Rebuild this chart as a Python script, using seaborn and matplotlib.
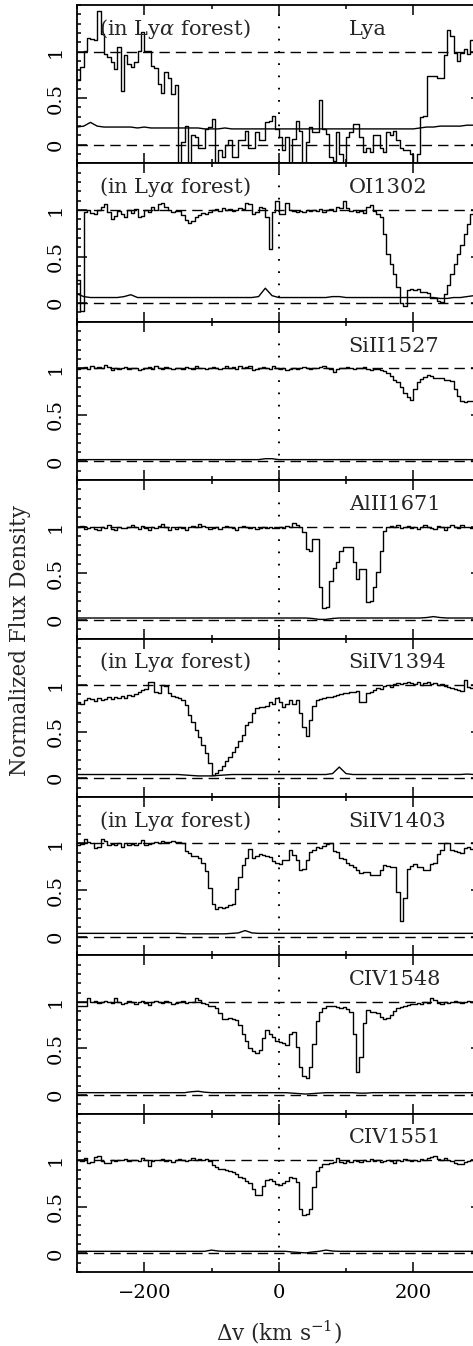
import numpy as np
import matplotlib
matplotlib.use("Agg")
import matplotlib.pyplot as plt
import seaborn as sns

# Velocity grid: left edges of 5 km/s pixels, and a 10 km/s grid for the error arrays
vel = np.arange(-300, 300, 5)
err_vel = np.arange(-300, 301, 10)

ions = ["Lya", "OI1302", "SiII1527", "AlII1671",
        "SiIV1394", "SiIV1403", "CIV1548", "CIV1551"]
in_forest = [True, True, False, False, True, True, False, False]

flux_lya = [
    0.69, 0.83, 1.01, 1.15, 1.13, 1.12, 1.44, 1.19, 0.97, 0.94,
    0.89, 0.81, 1.05, 0.58, 0.96, 0.87, 0.83, 0.89, 1.01, 1.21,
    1.01, 1.01, 0.85, 0.82, 0.65, 0.56, 0.78, 0.72, 0.55, 0.64,
    -0.25, 0.03, 0.20, -0.25, 0.10, 0.08, -0.03, -0.03, 0.17, 0.19,
    0.28, -0.25, -0.06, -0.13, 0.00, 0.05, -0.13, -0.13, 0.05, 0.05,
    0.15, -0.03, -0.03, 0.14, 0.05, 0.05, 0.24, 0.26, 0.31, 0.17,
    0.08, -0.06, 0.08, -0.25, 0.06, 0.26, 0.15, -0.25, 0.03, 0.19,
    0.14, 0.14, 0.48, 0.17, 0.12, -0.13, -0.17, 0.14, -0.10, -0.25,
    0.08, 0.14, 0.22, 0.22, 0.08, -0.08, -0.03, -0.08, 0.10, 0.10,
    -0.03, -0.08, 0.14, 0.10, 0.15, 0.05, -0.03, -0.06, -0.06, -0.10,
    -0.25, -0.10, 0.30, 0.31, 0.74, 0.74, 0.74, 0.72, 0.72, 0.96,
    1.23, 1.17, 0.99, 0.90, 0.99, 1.03, 0.97, 1.12, 0.80, 0.95,
]
flux_oi = [
    0.25, -0.08, 0.98, 1.00, 0.97, 0.96, 1.00, 1.03, 1.06, 0.98,
    0.90, 0.93, 0.99, 0.96, 0.92, 1.00, 0.97, 1.01, 0.92, 0.93,
    1.00, 0.98, 1.03, 1.00, 1.06, 1.08, 1.03, 1.00, 0.98, 0.99,
    0.99, 0.95, 0.89, 0.86, 0.88, 0.92, 0.95, 0.97, 0.96, 0.98,
    1.00, 1.01, 0.99, 1.02, 1.00, 1.01, 0.99, 1.00, 1.02, 1.01,
    1.08, 1.06, 0.96, 0.98, 1.03, 1.02, 0.92, 0.58, 0.98, 1.10,
    0.96, 0.96, 1.08, 1.00, 0.99, 0.98, 0.99, 0.98, 1.00, 0.99,
    1.00, 0.99, 1.01, 0.98, 1.00, 1.01, 0.99, 1.03, 1.02, 1.10,
    1.02, 0.99, 1.00, 0.98, 0.99, 0.97, 1.03, 1.05, 0.99, 0.96,
    0.92, 0.74, 0.53, 0.42, 0.31, 0.17, 0.00, -0.03, 0.14, 0.15,
    0.14, 0.15, 0.12, 0.12, 0.11, 0.06, 0.05, 0.02, 0.01, 0.10,
    0.19, 0.31, 0.42, 0.53, 0.62, 0.74, 0.85, 0.96, 1.00, 1.00,
]
flux_siii = [
    0.99, 1.00, 1.01, 0.99, 1.02, 1.00, 1.01, 1.00, 1.04, 1.01,
    0.98, 1.00, 0.99, 1.00, 1.01, 0.99, 1.00, 1.00, 0.98, 0.99,
    1.00, 1.01, 0.99, 1.02, 1.00, 0.99, 1.01, 1.00, 0.99, 1.00,
    1.00, 0.99, 1.01, 1.00, 0.99, 1.02, 1.00, 1.00, 0.99, 1.00,
    1.01, 1.00, 0.99, 1.00, 1.02, 1.00, 1.01, 0.99, 1.02, 1.00,
    1.01, 1.03, 0.98, 0.99, 1.00, 1.01, 1.00, 0.99, 1.02, 1.00,
    0.99, 1.00, 0.98, 0.99, 1.00, 0.99, 1.00, 1.01, 1.00, 0.99,
    1.00, 1.00, 1.01, 1.03, 1.00, 0.99, 0.96, 0.99, 1.00, 1.00,
    1.01, 1.00, 0.99, 1.00, 1.00, 1.01, 0.99, 0.98, 0.99, 0.99,
    0.98, 0.97, 0.95, 0.92, 0.88, 0.85, 0.80, 0.73, 0.69, 0.66,
    0.78, 0.85, 0.89, 0.91, 0.93, 0.92, 0.90, 0.90, 0.90, 0.88,
    0.87, 0.86, 0.78, 0.70, 0.65, 0.64, 0.65, 0.65, 0.66, 0.66,
]
flux_alii = [
    1.00, 1.01, 0.98, 0.99, 1.00, 0.98, 0.97, 1.00, 0.99, 1.02,
    0.98, 0.97, 1.00, 0.99, 0.99, 1.00, 1.02, 1.00, 0.98, 1.01,
    0.99, 0.96, 1.00, 0.99, 1.01, 1.03, 1.00, 0.97, 1.00, 0.98,
    1.00, 0.99, 0.97, 1.00, 1.01, 1.00, 1.03, 1.01, 1.00, 0.98,
    0.99, 1.00, 0.98, 1.00, 1.01, 1.00, 0.99, 0.97, 1.00, 1.01,
    1.00, 0.99, 1.00, 0.98, 0.99, 1.00, 0.99, 1.00, 0.99, 0.99,
    1.00, 0.99, 1.01, 1.00, 1.04, 1.02, 1.00, 0.94, 0.76, 0.74,
    0.87, 0.87, 0.35, 0.13, 0.14, 0.42, 0.56, 0.62, 0.74, 0.78,
    0.78, 0.78, 0.62, 0.44, 0.55, 0.55, 0.19, 0.20, 0.35, 0.51,
    0.74, 0.95, 1.00, 1.01, 1.00, 1.02, 0.99, 1.00, 1.01, 0.99,
    1.00, 0.98, 1.00, 1.02, 1.00, 0.99, 0.98, 1.01, 1.00, 0.97,
    1.00, 1.02, 1.00, 0.99, 1.02, 1.00, 1.00, 0.99, 1.00, 0.99,
]
flux_siiv1394 = [
    0.82, 0.80, 0.84, 0.86, 0.85, 0.83, 0.86, 0.84, 0.85, 0.87,
    0.85, 0.87, 0.86, 0.88, 0.86, 0.89, 0.88, 0.90, 0.93, 0.95,
    0.96, 1.03, 1.03, 0.93, 0.92, 1.00, 0.99, 0.92, 0.88, 0.87,
    0.86, 0.84, 0.79, 0.68, 0.60, 0.52, 0.44, 0.36, 0.27, 0.16,
    0.03, 0.06, 0.09, 0.13, 0.18, 0.23, 0.28, 0.33, 0.40, 0.46,
    0.57, 0.60, 0.70, 0.75, 0.76, 0.77, 0.78, 0.82, 0.80, 0.86,
    0.82, 0.77, 0.80, 0.84, 0.80, 0.84, 0.70, 0.55, 0.45, 0.62,
    0.78, 0.84, 0.85, 0.86, 0.87, 0.87, 0.88, 0.89, 0.90, 0.91,
    0.92, 0.93, 0.93, 0.94, 0.82, 0.82, 0.92, 0.93, 0.95, 0.97,
    0.96, 0.99, 1.00, 0.98, 1.01, 1.02, 1.01, 1.02, 1.03, 1.02,
    1.01, 1.03, 1.00, 1.02, 1.03, 1.01, 1.02, 1.00, 1.01, 0.99,
    0.98, 0.97, 0.96, 0.95, 0.94, 1.05, 0.98, 0.97, 0.98, 0.97,
]
flux_siiv1403 = [
    0.98, 0.99, 1.05, 1.02, 1.01, 0.95, 0.96, 1.05, 1.03, 0.98,
    0.99, 0.98, 1.00, 0.96, 1.01, 0.98, 0.99, 0.98, 1.00, 1.04,
    0.98, 0.99, 1.01, 1.02, 1.01, 1.03, 1.02, 1.02, 1.03, 1.02,
    1.02, 1.00, 0.92, 0.90, 0.87, 0.86, 0.84, 0.79, 0.70, 0.52,
    0.35, 0.30, 0.32, 0.31, 0.32, 0.34, 0.35, 0.51, 0.64, 0.77,
    0.84, 0.94, 0.84, 0.86, 0.89, 0.88, 0.86, 0.85, 0.81, 0.79,
    0.78, 0.82, 0.82, 0.93, 0.88, 0.82, 0.71, 0.73, 0.82, 0.91,
    0.93, 0.96, 0.95, 0.97, 0.99, 1.00, 0.92, 0.91, 0.84, 0.83,
    0.79, 0.77, 0.75, 0.72, 0.68, 0.69, 0.69, 0.66, 0.66, 0.66,
    0.72, 0.77, 0.76, 0.75, 0.75, 0.48, 0.17, 0.41, 0.73, 0.76,
    0.78, 0.75, 0.75, 0.71, 0.72, 0.78, 0.79, 0.89, 0.93, 1.00,
    1.01, 0.93, 0.92, 0.91, 0.90, 0.95, 0.96, 0.94, 0.95, 0.96,
]
flux_civ1548 = [
    0.96, 0.95, 0.95, 1.04, 1.00, 1.01, 0.99, 1.00, 1.01, 1.00,
    0.99, 1.04, 1.00, 0.98, 0.99, 1.01, 1.00, 0.98, 1.00, 1.01,
    0.99, 0.97, 1.00, 1.01, 1.00, 0.99, 1.01, 1.00, 0.98, 0.99,
    1.00, 1.01, 0.99, 1.00, 1.00, 1.04, 1.02, 0.99, 0.98, 0.96,
    0.95, 0.93, 0.88, 0.82, 0.82, 0.83, 0.82, 0.80, 0.75, 0.66,
    0.58, 0.50, 0.47, 0.45, 0.48, 0.61, 0.70, 0.66, 0.62, 0.58,
    0.57, 0.56, 0.54, 0.66, 0.68, 0.52, 0.30, 0.20, 0.18, 0.30,
    0.55, 0.79, 0.89, 0.93, 0.95, 0.95, 0.96, 0.94, 0.93, 0.94,
    0.92, 0.89, 0.66, 0.25, 0.41, 0.77, 0.91, 0.89, 0.89, 0.88,
    0.84, 0.82, 0.83, 0.86, 0.90, 0.93, 0.94, 0.96, 0.97, 0.98,
    0.98, 0.99, 0.98, 1.00, 0.99, 1.04, 1.02, 0.99, 0.98, 1.00,
    0.99, 1.00, 1.01, 1.00, 0.99, 1.00, 1.01, 1.00, 0.99, 1.00,
]
flux_civ1551 = [
    1.00, 0.99, 1.02, 0.97, 0.98, 1.03, 1.04, 0.99, 0.97, 0.97,
    1.00, 0.99, 1.00, 1.00, 1.01, 0.99, 1.00, 1.00, 0.99, 1.02,
    1.00, 0.94, 0.99, 1.00, 1.00, 1.01, 0.99, 1.00, 0.98, 1.00,
    1.01, 1.00, 0.99, 1.00, 1.02, 1.00, 1.01, 1.00, 1.01, 0.99,
    0.95, 0.93, 0.91, 0.91, 0.90, 0.88, 0.87, 0.85, 0.82, 0.81,
    0.78, 0.76, 0.69, 0.63, 0.63, 0.72, 0.79, 0.80, 0.78, 0.74,
    0.73, 0.75, 0.78, 0.82, 0.81, 0.77, 0.48, 0.41, 0.42, 0.48,
    0.71, 0.88, 0.93, 0.96, 0.96, 0.97, 0.98, 1.02, 0.98, 0.97,
    0.99, 0.98, 1.00, 0.99, 0.98, 1.00, 0.99, 1.01, 0.99, 1.00,
    0.98, 0.99, 1.00, 0.99, 0.97, 1.00, 0.99, 1.01, 1.00, 0.99,
    1.00, 0.99, 1.01, 1.00, 1.02, 1.03, 1.04, 1.01, 1.00, 1.02,
    1.00, 0.99, 0.97, 0.96, 0.96, 0.98, 0.99, 1.00, 1.00, 1.00,
]

err_lya = [
    0.19, 0.20, 0.24, 0.20, 0.19, 0.19, 0.19, 0.19, 0.19, 0.18,
    0.19, 0.18, 0.18, 0.18, 0.18, 0.18, 0.18, 0.18, 0.18, 0.17,
    0.17, 0.17, 0.18, 0.17, 0.17, 0.17, 0.17, 0.17, 0.17, 0.17,
    0.17, 0.17, 0.17, 0.17, 0.17, 0.17, 0.17, 0.17, 0.17, 0.17,
    0.17, 0.17, 0.17, 0.17, 0.17, 0.17, 0.17, 0.17, 0.17, 0.17,
    0.17, 0.18, 0.19, 0.19, 0.20, 0.20, 0.20, 0.20, 0.21, 0.21, 0.20,
]
err_oi = [
    0.10, 0.07, 0.06, 0.06, 0.06, 0.06, 0.06, 0.07, 0.09, 0.06,
    0.06, 0.06, 0.06, 0.06, 0.06, 0.06, 0.06, 0.06, 0.06, 0.06,
    0.06, 0.06, 0.06, 0.06, 0.06, 0.06, 0.06, 0.07, 0.16, 0.08,
    0.06, 0.06, 0.06, 0.06, 0.06, 0.06, 0.06, 0.06, 0.07, 0.07,
    0.06, 0.06, 0.06, 0.06, 0.06, 0.06, 0.06, 0.06, 0.06, 0.06,
    0.06, 0.06, 0.06, 0.06, 0.05, 0.05, 0.06, 0.06, 0.07, 0.08, 0.09,
]
err_siii = [
    0.02, 0.02, 0.02, 0.02, 0.02, 0.02, 0.02, 0.02, 0.02, 0.02,
    0.02, 0.02, 0.02, 0.02, 0.02, 0.02, 0.02, 0.02, 0.02, 0.02,
    0.02, 0.02, 0.02, 0.02, 0.02, 0.02, 0.02, 0.02, 0.03, 0.03,
    0.02, 0.02, 0.02, 0.02, 0.02, 0.02, 0.02, 0.02, 0.02, 0.02,
    0.02, 0.02, 0.02, 0.02, 0.02, 0.02, 0.02, 0.02, 0.02, 0.02,
    0.02, 0.02, 0.02, 0.02, 0.02, 0.02, 0.02, 0.02, 0.02, 0.02, 0.02,
]
err_alii = [
    0.02, 0.02, 0.02, 0.02, 0.02, 0.02, 0.02, 0.02, 0.02, 0.02,
    0.02, 0.02, 0.02, 0.02, 0.02, 0.02, 0.02, 0.02, 0.02, 0.02,
    0.02, 0.02, 0.02, 0.02, 0.02, 0.02, 0.02, 0.02, 0.02, 0.02,
    0.02, 0.02, 0.02, 0.02, 0.02, 0.015, 0.005, 0.005, 0.015, 0.02,
    0.02, 0.02, 0.02, 0.02, 0.02, 0.02, 0.02, 0.02, 0.02, 0.02,
    0.02, 0.02, 0.025, 0.035, 0.025, 0.02, 0.02, 0.02, 0.02, 0.02, 0.02,
]
err_siiv1394 = [
    0.04, 0.04, 0.04, 0.04, 0.04, 0.04, 0.04, 0.04, 0.04, 0.04,
    0.04, 0.04, 0.04, 0.04, 0.04, 0.04, 0.035, 0.03, 0.025, 0.025,
    0.025, 0.03, 0.035, 0.04, 0.04, 0.04, 0.04, 0.04, 0.04, 0.04,
    0.04, 0.04, 0.04, 0.04, 0.04, 0.04, 0.04, 0.04, 0.05, 0.12,
    0.05, 0.04, 0.04, 0.04, 0.04, 0.04, 0.04, 0.04, 0.04, 0.04,
    0.04, 0.04, 0.04, 0.04, 0.04, 0.04, 0.04, 0.04, 0.045, 0.04, 0.04,
]
err_siiv1403 = [
    0.035, 0.035, 0.035, 0.035, 0.035, 0.035, 0.035, 0.035, 0.035, 0.035,
    0.035, 0.035, 0.035, 0.035, 0.035, 0.035, 0.03, 0.03, 0.03, 0.03,
    0.03, 0.03, 0.03, 0.035, 0.04, 0.065, 0.04, 0.035, 0.035, 0.035,
    0.035, 0.035, 0.035, 0.035, 0.035, 0.035, 0.035, 0.035, 0.035, 0.035,
    0.035, 0.035, 0.035, 0.035, 0.035, 0.035, 0.035, 0.035, 0.035, 0.035,
    0.035, 0.035, 0.035, 0.035, 0.035, 0.035, 0.035, 0.035, 0.035, 0.035, 0.035,
]
err_civ1548 = [
    0.025, 0.025, 0.025, 0.025, 0.025, 0.025, 0.025, 0.025, 0.025, 0.025,
    0.025, 0.025, 0.025, 0.025, 0.025, 0.025, 0.025, 0.035, 0.04, 0.03,
    0.025, 0.025, 0.025, 0.025, 0.025, 0.025, 0.025, 0.025, 0.025, 0.025,
    0.025, 0.025, 0.02, 0.015, 0.01, 0.015, 0.02, 0.025, 0.025, 0.025,
    0.025, 0.025, 0.02, 0.02, 0.025, 0.025, 0.025, 0.025, 0.025, 0.025,
    0.025, 0.025, 0.025, 0.025, 0.025, 0.025, 0.025, 0.025, 0.025, 0.025, 0.025,
]
err_civ1551 = [
    0.022, 0.022, 0.022, 0.022, 0.022, 0.022, 0.022, 0.022, 0.022, 0.022,
    0.022, 0.022, 0.022, 0.022, 0.022, 0.022, 0.022, 0.022, 0.022, 0.022,
    0.035, 0.025, 0.022, 0.022, 0.022, 0.022, 0.022, 0.022, 0.022, 0.022,
    0.022, 0.022, 0.015, 0.01, 0.005, 0.015, 0.022, 0.035, 0.025, 0.022,
    0.022, 0.022, 0.022, 0.022, 0.022, 0.022, 0.022, 0.022, 0.022, 0.022,
    0.022, 0.022, 0.022, 0.022, 0.022, 0.022, 0.022, 0.022, 0.022, 0.022, 0.022,
]

fluxes = [flux_lya, flux_oi, flux_siii, flux_alii,
          flux_siiv1394, flux_siiv1403, flux_civ1548, flux_civ1551]
errors = [err_lya, err_oi, err_siii, err_alii,
          err_siiv1394, err_siiv1403, err_civ1548, err_civ1551]

sns.set_theme(style="ticks")
plt.rcParams["font.family"] = ["DejaVu Serif"]
plt.rcParams["mathtext.fontset"] = "dejavuserif"
plt.rcParams["axes.linewidth"] = 1.3

W, H = 473, 1346
fig = plt.figure(figsize=(W / 100, H / 100), dpi=100)
fig.patch.set_facecolor("white")

left_px, right_px, top_px, bottom_px = 77, 480.5, 5, 1272
n = len(ions)
panel_h = (bottom_px - top_px) / n

axes = []
for i in range(n):
    y_top = top_px + i * panel_h
    rect = [left_px / W, 1 - (y_top + panel_h) / H,
            (right_px - left_px) / W, panel_h / H]
    ax = fig.add_axes(rect, sharex=axes[0] if axes else None)
    axes.append(ax)

for i, ax in enumerate(axes):
    ax.set_facecolor("white")
    sns.lineplot(x=vel, y=fluxes[i], ax=ax, color="black", lw=1.0,
                 drawstyle="steps-post", estimator=None, sort=False)
    sns.lineplot(x=err_vel, y=errors[i], ax=ax, color="black", lw=1.0,
                 estimator=None, sort=False)
    ax.axhline(1.0, color="black", lw=1.0, dashes=(7.5, 4.3), zorder=1)
    ax.axhline(0.0, color="black", lw=1.0, dashes=(7.5, 4.3), zorder=1)
    ax.axvline(0.0, color="black", lw=1.4, dashes=(0.9, 5.4), zorder=1)

    ax.set_xlim(-300, 300)
    ax.set_ylim(-0.2, 1.5)
    ax.set_xticks([-200, 0, 200])
    ax.set_xticks([-300, -100, 100, 300], minor=True)
    ax.set_yticks([0, 0.5, 1])
    ax.set_yticks(np.arange(-0.2, 1.51, 0.1), minor=True)
    ax.set_yticklabels(["0", "0.5", "1"])
    ax.tick_params(which="both", direction="in", top=True, right=True,
                   width=1.1, colors="black", labelsize=14)
    ax.tick_params(which="major", length=7, pad=9)
    ax.tick_params(which="minor", length=3.2)
    for lab in ax.get_yticklabels():
        lab.set_rotation(90)
        lab.set_va("center")
        lab.set_ha("right")
    if i < n - 1:
        ax.tick_params(labelbottom=False)
    ax.set_xlabel("")
    ax.set_ylabel("")
    for s in ax.spines.values():
        s.set_color("black")

    ax.text(104, 1.18, ions[i], fontsize=15, ha="left", va="baseline")
    if in_forest[i]:
        ax.text(-268, 1.18, r"(in Ly$\alpha$ forest)", fontsize=15,
                ha="left", va="baseline")

axes[-1].set_xticklabels(["\u2212200", "0", "200"])
axes[-1].set_xlabel(r"$\Delta$v (km s$^{-1}$)", fontsize=15.5, labelpad=12)
fig.text(20 / W, 1 - 640 / H, "Normalized Flux Density", rotation=90,
         fontsize=15.5, ha="center", va="center")

fig.savefig("out.png", dpi=100, facecolor="white")
